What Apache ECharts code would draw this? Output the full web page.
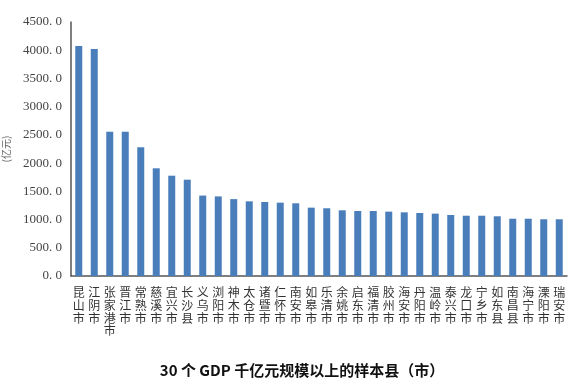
<!DOCTYPE html>
<html><head><meta charset="utf-8">
<script src="https://cdn.jsdelivr.net/npm/echarts@6/dist/echarts.min.js"></script>
<style>html,body{margin:0;padding:0;background:#fff}#c{width:577px;height:384px}</style>
</head><body><div id="c"></div>
<script>
var categories = ['昆山市','江阴市','张家港市','晋江市','常熟市','慈溪市','宜兴市','长沙县','义乌市','浏阳市','神木市','太仓市','诸暨市','仁怀市','南安市','如皋市','乐清市','余姚市','启东市','福清市','胶州市','海安市','丹阳市','温岭市','泰兴市','龙口市','宁乡市','如东县','南昌县','海宁市','溧阳市','瑞安市'];
var gdpValues = [4075,4022,2557,2557,2280,1908,1777,1706,1425,1410,1362,1323,1311,1299,1288,1211,1200,1164,1152,1152,1140,1128,1116,1105,1081,1068,1068,1058,1015,1015,1005,1005];
var yTicks = {min:0, max:4500, interval:500};
var chart = echarts.init(document.getElementById('c'));
chart.setOption({
  animation:false,
  title:{text:'30 个 GDP 千亿元规模以上的样本县（市）', left:297, textAlign:'center', top:358,
    textStyle:{fontFamily:'"Noto Sans CJK SC"', fontSize:15, fontWeight:'bold', color:'#111'}},
  grid:{left:71, right:10, top:22, bottom:108, containLabel:false, outerBoundsMode:'none'},
  xAxis:{type:'category', data:categories,
    axisLine:{lineStyle:{color:'#555', width:1.5}},
    axisTick:{show:false},
    axisLabel:{interval:0, margin:10, lineHeight:12.8, fontSize:12, color:'#333',
      fontFamily:'"Noto Sans CJK SC"',
      formatter:function(v){return v.split('').join('\n');}}
  },
  yAxis:{type:'value', min:yTicks.min, max:yTicks.max, interval:yTicks.interval,
    name:'(亿元)', nameLocation:'middle', nameGap:60, nameRotate:90,
    nameTextStyle:{fontSize:10, color:'#666', fontFamily:'"Noto Sans CJK SC"'},
    axisLine:{show:true, lineStyle:{color:'#555', width:1.5}},
    axisTick:{show:false}, splitLine:{show:false},
    axisLabel:{margin:9, fontSize:13, color:'#444', fontFamily:'"Liberation Serif", serif',
      formatter:function(v){return v.toFixed(1).replace('.', '. ');}}
  },
  series:[{type:'bar', data:gdpValues, barWidth:7, itemStyle:{color:'#4a7ebb'}}]
});
</script></body></html>
